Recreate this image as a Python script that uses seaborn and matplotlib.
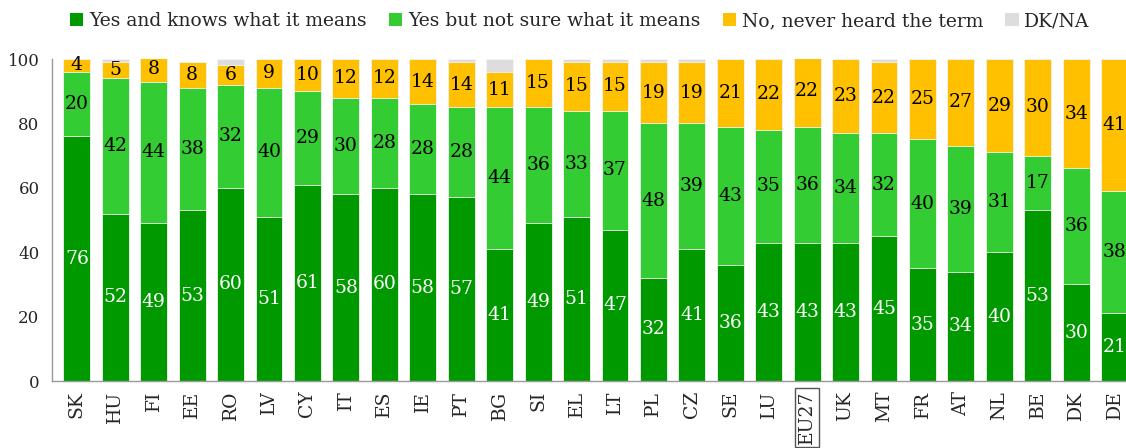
import numpy as np
import pandas as pd
import matplotlib
matplotlib.use("Agg")
import matplotlib.pyplot as plt
import seaborn as sns
from matplotlib.patches import Patch
from matplotlib.ticker import FixedLocator

countries = ["SK", "HU", "FI", "EE", "RO", "LV", "CY", "IT", "ES", "IE", "PT", "BG", "SI", "EL",
             "LT", "PL", "CZ", "SE", "LU", "EU27", "UK", "MT", "FR", "AT", "NL", "BE", "DK", "DE"]
knows = [76, 52, 49, 53, 60, 51, 61, 58, 60, 58, 57, 41, 49, 51, 47, 32, 41, 36, 43, 43, 43, 45,
         35, 34, 40, 53, 30, 21]
not_sure = [20, 42, 44, 38, 32, 40, 29, 30, 28, 28, 28, 44, 36, 33, 37, 48, 39, 43, 35, 36, 34, 32,
            40, 39, 31, 17, 36, 38]
never = [4, 5, 8, 8, 6, 9, 10, 12, 12, 14, 14, 11, 15, 15, 15, 19, 19, 21, 22, 22, 23, 22, 25, 27,
         29, 30, 34, 41]
dk_na = [0, 1, 0, 0, 2, 1, 1, 0, 0, 0, 1, 4, 0, 1, 1, 1, 1, 0, 0, 0, 0, 1, 0, 1, 0, 0, 0, 0]

series = ["Yes and knows what it means", "Yes but not sure what it means",
          "No, never heard the term", "DK/NA"]
colors = ["#009900", "#33cc33", "#ffc000", "#dddddd"]

df = pd.DataFrame({"country": countries, "knows": knows, "not_sure": not_sure,
                   "never": never, "dk_na": dk_na})
df["c1"] = df["knows"]
df["c2"] = df["c1"] + df["not_sure"]
df["c3"] = df["c2"] + df["never"]
df["c4"] = df["c3"] + df["dk_na"]

sns.set_style("white")
plt.rcParams["font.family"] = ["DejaVu Serif"]

fig = plt.figure(figsize=(11.26, 4.48), dpi=100)
# axes runs off the right edge like the original export
ax = fig.add_axes([52 / 1126, 67 / 448, (1126 - 52) / 1126, 322 / 448])

# stacked bars drawn back to front (cumulative totals)
for col, c in zip(["c4", "c3", "c2", "c1"], colors[::-1]):
    sns.barplot(data=df, x="country", y=col, color=c, width=0.7, ax=ax,
                edgecolor="#f4f4f4", linewidth=0.6, saturation=1)

# value labels in the middle of each segment
lab_size = 13.5
for i, row in df.iterrows():
    ax.text(i, row["knows"] / 2, str(row["knows"]), ha="center", va="center",
            color="white", fontsize=lab_size)
    ax.text(i, row["c1"] + row["not_sure"] / 2, str(row["not_sure"]), ha="center",
            va="center", color="black", fontsize=lab_size)
    ax.text(i, row["c2"] + row["never"] / 2, str(row["never"]), ha="center",
            va="center", color="black", fontsize=lab_size)

n = len(countries)
ax.set_xlim(-0.646, -0.5 + (1126 - 57.3) / 38.45)
ax.set_ylim(0, 100)
ax.set_yticks([0, 20, 40, 60, 80, 100])
ax.set_xlabel("")
ax.set_ylabel("")

for s in ["top", "right"]:
    ax.spines[s].set_visible(False)
for s in ["left", "bottom"]:
    ax.spines[s].set_color("#999999")
    ax.spines[s].set_linewidth(1)

ax.tick_params(axis="y", direction="out", length=5, color="#999999", labelsize=12, pad=4)
ax.tick_params(axis="x", which="major", length=0, labelsize=13.5, pad=7)
ax.xaxis.set_minor_locator(FixedLocator(np.arange(n + 1) - 0.5))
ax.tick_params(axis="x", which="minor", direction="out", length=5, color="#999999")
ax.set_xticks(range(n))
ax.set_xticklabels(countries, rotation=90)
for lab in ax.get_xticklabels():
    if lab.get_text() == "EU27":
        lab.set_bbox(dict(boxstyle="square,pad=0.15", fc="white", ec="#555555", lw=1))

handles = [Patch(facecolor=c, edgecolor="none") for c in colors]
fig.legend(handles, series, loc="upper center", bbox_to_anchor=(0.515, 1.01), ncol=4,
           frameon=False, fontsize=13.5, handlelength=0.7, handleheight=0.7,
           handletextpad=0.3, columnspacing=1.2)

fig.savefig("out.png", dpi=100)
